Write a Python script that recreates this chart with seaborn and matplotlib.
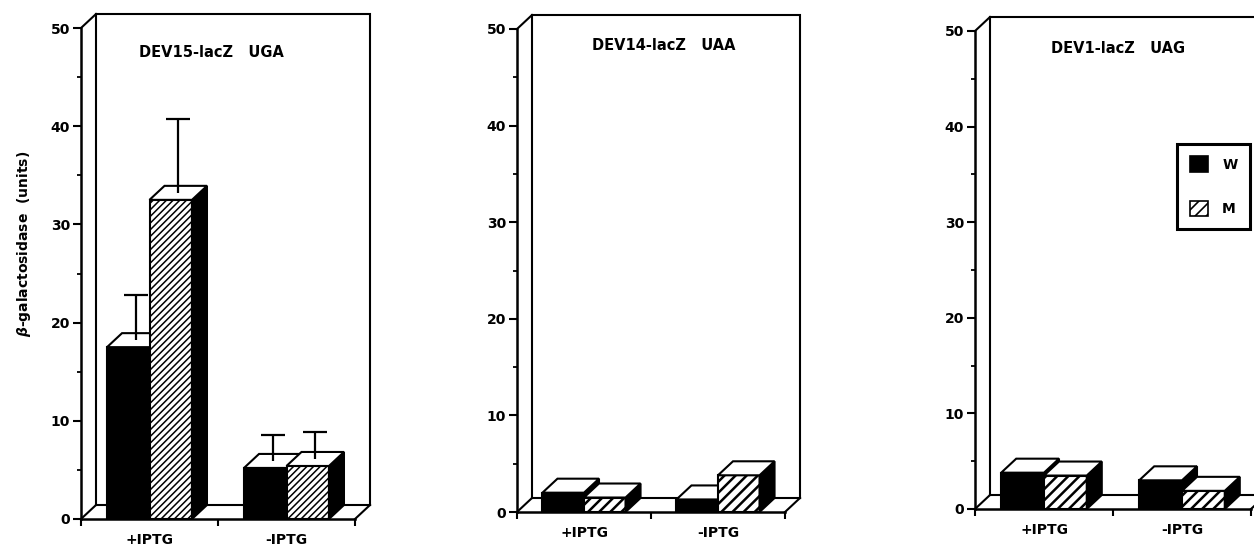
import numpy as np
import pandas as pd
import seaborn as sns
import matplotlib.pyplot as plt
from matplotlib.patches import Polygon, Patch

sns.set_style("ticks")
plt.rcParams["font.family"] = ["DejaVu Sans"]
plt.rcParams["font.weight"] = "bold"
plt.rcParams["hatch.linewidth"] = 1.2
plt.rcParams["hatch.color"] = "black"
for key in ("text.color", "axes.labelcolor", "xtick.color", "ytick.color"):
    plt.rcParams[key] = "black"

# ---- data -------------------------------------------------------------
conditions = ["+IPTG", "-IPTG"]
strains = ["W", "M"]

dev15_w = [17.5, 5.2]
dev15_m = [32.5, 5.4]
dev15_w_err = [4.6, 2.6]
dev15_m_err = [7.5, 2.7]

dev14_w = [2.0, 1.3]
dev14_m = [1.5, 3.8]

dev1_w = [3.8, 3.0]
dev1_m = [3.5, 1.9]

titles = ["DEV15-lacZ   UGA", "DEV14-lacZ   UAA", "DEV1-lacZ   UAG"]
y_ticks = [0, 10, 20, 30, 40, 50]

panels = [
    dict(title=titles[0], w=dev15_w, m=dev15_m, w_err=dev15_w_err, m_err=dev15_m_err),
    dict(title=titles[1], w=dev14_w, m=dev14_m, w_err=None, m_err=None),
    dict(title=titles[2], w=dev1_w, m=dev1_m, w_err=None, m_err=None),
]

# ---- layout (pixels) --------------------------------------------------
W_PX, H_PX = 1254, 548
# x-axis left/right, y pixel of 0 and of 50
frames = [(81, 355, 519, 28), (517, 785, 512, 29), (975, 1251, 509, 31)]
title_pos = [(0.476, 0.951), (0.547, 0.966), (0.518, 0.964)]
hatch_styles = ["/////", "///", "///"]
hatch_widths = [1.1, 1.8, 1.8]
DEPTH_X, DEPTH_Y = 15, 14  # pseudo-3D depth in pixels
LW = 1.5

fig = plt.figure(figsize=(W_PX / 100, H_PX / 100), dpi=100)

for i, (panel, (xl, xr, y0, y50)) in enumerate(zip(panels, frames)):
    ax = fig.add_axes([xl / W_PX, 1 - y0 / H_PX, (xr - xl) / W_PX, (y0 - y50) / H_PX])
    df = pd.DataFrame({
        "condition": conditions * 2,
        "strain": ["W"] * 2 + ["M"] * 2,
        "activity": list(panel["w"]) + list(panel["m"]),
    })
    sns.barplot(data=df, x="condition", y="activity", hue="strain",
                order=conditions, hue_order=strains,
                palette={"W": "black", "M": "white"}, saturation=1,
                width=0.62, edgecolor="black", linewidth=LW,
                errorbar=None, legend=False, ax=ax)
    ax.set_xlim(-0.5, 1.5)
    ax.set_ylim(0, 50)

    # depth expressed in data units
    ddx = DEPTH_X * 2.0 / (xr - xl)
    ddy = DEPTH_Y * 50.0 / (y0 - y50)

    # back wall and floor outline
    wall_kw = dict(color="black", lw=LW, clip_on=False, zorder=1.5,
                   solid_joinstyle="miter", solid_capstyle="projecting")
    ax.plot([-0.5 + ddx, -0.5 + ddx, 1.5 + ddx, 1.5 + ddx],
            [ddy, 50 + ddy, 50 + ddy, ddy], **wall_kw)
    ax.plot([-0.5 + ddx, 1.5 + ddx], [ddy, ddy], **wall_kw)
    ax.plot([-0.5, -0.5 + ddx], [50, 50 + ddy], **wall_kw)
    ax.plot([-0.5, -0.5 + ddx], [0, ddy], **wall_kw)
    ax.plot([1.5, 1.5 + ddx], [0, ddy], **wall_kw)

    # extrude each bar: top and side faces
    for k, container in enumerate(ax.containers):
        zbase = 2 + k
        for bar in container:
            x0, w, h = bar.get_x(), bar.get_width(), bar.get_height()
            bar.set_zorder(zbase)
            if k == 1:
                bar.set_hatch(hatch_styles[i])
                if hasattr(bar, "set_hatch_linewidth"):
                    bar.set_hatch_linewidth(hatch_widths[i])
            top = Polygon([(x0, h), (x0 + w, h), (x0 + w + ddx, h + ddy), (x0 + ddx, h + ddy)],
                          closed=True, fc="white", ec="black", lw=LW,
                          zorder=zbase + 0.2, clip_on=False, joinstyle="miter")
            side = Polygon([(x0 + w, 0), (x0 + w, h), (x0 + w + ddx, h + ddy), (x0 + w + ddx, ddy)],
                           closed=True, fc="black", ec="black", lw=LW,
                           zorder=zbase + 0.1, clip_on=False, joinstyle="miter")
            ax.add_patch(side)
            ax.add_patch(top)

    # upper error bars from the centre of each top face
    for k, errs in enumerate([panel["w_err"], panel["m_err"]]):
        if errs is None:
            continue
        bars = list(ax.containers[k])
        xs = [b.get_x() + b.get_width() / 2 + ddx / 2 for b in bars]
        ys = [b.get_height() + ddy / 2 for b in bars]
        eb = ax.errorbar(xs, ys, yerr=[np.zeros(len(errs)), errs], fmt="none",
                         ecolor="black", elinewidth=1.6, capsize=8.4, capthick=1.6,
                         zorder=6, clip_on=False)
        # keep only the upper caps
        caps = eb.lines[1]
        if len(caps) == 2:
            caps[0].set_visible(False)

    # axes styling
    sns.despine(ax=ax, top=True, right=True)
    for side_name in ("left", "bottom"):
        ax.spines[side_name].set_linewidth(1.8)
        ax.spines[side_name].set_color("black")
    ax.set_yticks(y_ticks)
    ax.set_yticks(np.arange(5, 50, 10), minor=True)
    ax.tick_params(axis="y", which="major", length=6, width=1.5, pad=2,
                   labelsize=10, colors="black")
    ax.tick_params(axis="y", which="minor", length=3, width=1.3)
    ax.set_xticks([-0.5, 0.5, 1.5], minor=True)
    ax.tick_params(axis="x", which="major", length=0, pad=10, labelsize=10,
                   colors="black")
    ax.tick_params(axis="x", which="minor", length=5, width=1.5)
    for lab in ax.get_xticklabels() + ax.get_yticklabels():
        lab.set_fontweight("bold")
    ax.set_xlabel("")
    ax.set_ylabel("")
    ax.patch.set_alpha(0)

    tx, ty = title_pos[i]
    ax.text(tx, ty, panel["title"], transform=ax.transAxes, ha="center",
            va="center", fontsize=10.5, fontweight="bold", zorder=7)

    if i == 0:
        ax.set_ylabel(r"$\beta$-galactosidase  (units)", fontsize=10,
                      fontweight="bold")
        ax.yaxis.set_label_coords(-0.175, 0.56)

    if i == 2:
        handles = [Patch(fc="black", ec="black", lw=1.2),
                   Patch(fc="white", ec="black", lw=1.2, hatch="///")]
        if hasattr(handles[1], "set_hatch_linewidth"):
            handles[1].set_hatch_linewidth(1.8)
        leg = ax.legend(handles=handles, labels=strains, loc="upper left",
                        bbox_to_anchor=(1177 / W_PX, 1 - 144 / H_PX),
                        bbox_transform=fig.transFigure, borderaxespad=0,
                        frameon=True, fancybox=False, framealpha=1,
                        edgecolor="black", handlelength=1.3, handleheight=1.3,
                        labelspacing=2.1, borderpad=0.9, handletextpad=1.05,
                        prop={"size": 10, "weight": "bold"})
        leg.get_frame().set_linewidth(2.2)
        leg.set_zorder(10)

fig.savefig("out.png", dpi=100, facecolor="white")
